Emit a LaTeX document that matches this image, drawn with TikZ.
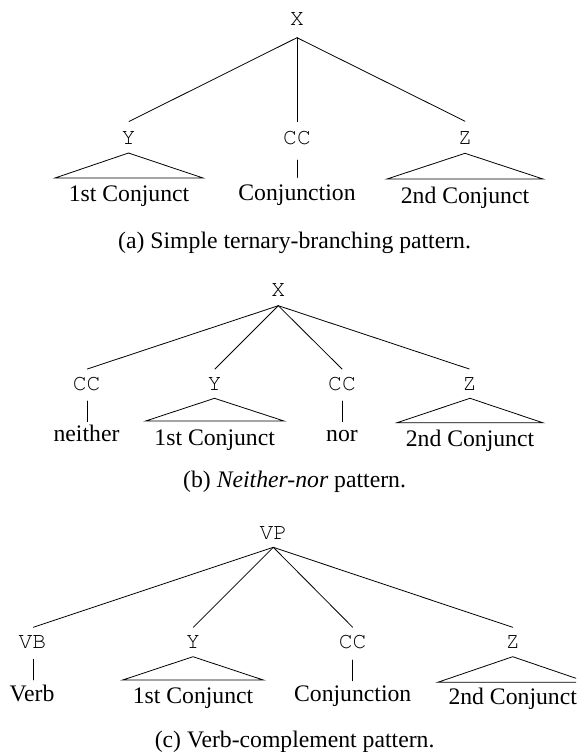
\documentclass[tikz,border=0pt]{standalone}
\usepackage[T1,TU]{fontenc}
\usepackage{fontspec}
\setmainfont{Liberation Serif}
\newcommand{\courierfont}{\fontencoding{T1}\fontfamily{pcr}\fontseries{m}\fontshape{n}\selectfont}
\begin{document}
\begin{tikzpicture}[x=1pt,y=-1pt,
  lab/.style={font=\courierfont\fontsize{23}{26}\selectfont, anchor=base, inner sep=0pt},
  txt/.style={font=\fontsize{23.7}{28}\selectfont\rmfamily, anchor=base, inner sep=0pt},
  captext/.style={font=\fontsize{23.7}{28}\selectfont\rmfamily, anchor=base, inner sep=0pt},
  edge/.style={line width=0.8pt, line cap=round},
  roof/.style={line width=0.8pt, line join=miter}]
\useasboundingbox (0,0) rectangle (576,752);
\clip (0,0) rectangle (576,752);

% ---------------- panel (a) ----------------
\node[lab] (aX) at (297,26) {X};
\coordinate (aXb) at (297,37.7);
\node[lab] (aY) at (128.5,144) {Y};
\node[lab] (aCC) at (297,144) {CC};
\node[lab] (aZ) at (465,144) {Z};
\coordinate (aYt) at (129,121.5);
\coordinate (aCCt) at (297,121.7);
\coordinate (aZt) at (465,121.2);
\draw[edge] (aXb) -- (aYt);
\draw[edge] (aXb) -- (aCCt);
\draw[edge] (aXb) -- (aZt);
\coordinate (aYa) at (128.5,153);
\coordinate (aYl) at (55,178);
\coordinate (aYr) at (203,178);
\draw[roof] (aYa) -- (aYr) -- (aYl) -- cycle;
\coordinate (aCCb) at (297,160);
\coordinate (aCCw) at (297,177.5);
\draw[edge] (aCCb) -- (aCCw);
\coordinate (aZa) at (465,153.3);
\coordinate (aZl) at (387,179);
\coordinate (aZr) at (543,179);
\draw[roof] (aZa) -- (aZr) -- (aZl) -- cycle;
\node[txt] (a1) at (129,201.7) {1st Conjunct};
\node[txt] (a2) at (297,200) {Conjunction};
\node[txt] (a3) at (465,203.3) {2nd Conjunct};
\node[captext] (acap) at (294.6,248) {(a) Simple ternary-branching pattern.};

% ---------------- panel (b) ----------------
\node[lab] (bX) at (278.3,296) {X};
\coordinate (bXb) at (278.3,305.7);
\node[lab] (bCC1) at (86.7,390.7) {CC};
\node[lab] (bY) at (214.5,390.7) {Y};
\node[lab] (bCC2) at (342,390.7) {CC};
\node[lab] (bZ) at (469.5,390.7) {Z};
\coordinate (bCC1t) at (87.3,369);
\coordinate (bYt) at (215,369);
\coordinate (bCC2t) at (342,369);
\coordinate (bZt) at (469.3,369);
\draw[edge] (bXb) -- (bCC1t);
\draw[edge] (bXb) -- (bYt);
\draw[edge] (bXb) -- (bCC2t);
\draw[edge] (bXb) -- (bZt);
\coordinate (bCC1b) at (87,401);
\coordinate (bCC1w) at (87,421.7);
\draw[edge] (bCC1b) -- (bCC1w);
\coordinate (bCC2b) at (342,401);
\coordinate (bCC2w) at (342,421.7);
\draw[edge] (bCC2b) -- (bCC2w);
\coordinate (bYa) at (214.5,398.3);
\coordinate (bYl) at (145.7,421);
\coordinate (bYr) at (284,421);
\draw[roof] (bYa) -- (bYr) -- (bYl) -- cycle;
\coordinate (bZa) at (470,398.3);
\coordinate (bZl) at (397,422.7);
\coordinate (bZr) at (542.7,422.7);
\draw[roof] (bZa) -- (bZr) -- (bZl) -- cycle;
\node[txt] (b1) at (86.5,441.7) {neither};
\node[txt] (b2) at (214.7,445) {1st Conjunct};
\node[txt] (b3) at (342,441.7) {nor};
\node[txt] (b4) at (470,446) {2nd Conjunct};
\node[captext] (bcap) at (294.6,487) {(b) \textit{Neither-nor} pattern.};

% ---------------- panel (c) ----------------
\node[lab] (cVP) at (273.3,539) {VP};
\coordinate (cVPb) at (273.3,547.3);
\node[lab] (cVB) at (32.5,648.3) {VB};
\node[lab] (cY) at (193,648.3) {Y};
\node[lab] (cCC) at (352.7,648.3) {CC};
\node[lab] (cZ) at (512.7,648.3) {Z};
\coordinate (cVBt) at (33.3,627.3);
\coordinate (cYt) at (193.3,627.3);
\coordinate (cCCt) at (352.7,627.3);
\coordinate (cZt) at (512.7,627.3);
\draw[edge] (cVPb) -- (cVBt);
\draw[edge] (cVPb) -- (cYt);
\draw[edge] (cVPb) -- (cCCt);
\draw[edge] (cVPb) -- (cZt);
\coordinate (cVBb) at (33,659.3);
\coordinate (cVBw) at (33,680);
\draw[edge] (cVBb) -- (cVBw);
\coordinate (cCCb) at (352.7,660);
\coordinate (cCCw) at (352.7,680.7);
\draw[edge] (cCCb) -- (cCCw);
\coordinate (cYa) at (193,656.7);
\coordinate (cYl) at (122.7,680);
\coordinate (cYr) at (263.3,680);
\draw[roof] (cYa) -- (cYr) -- (cYl) -- cycle;
\coordinate (cZa) at (512.7,656.7);
\coordinate (cZl) at (437.7,682.3);
\coordinate (cZr) at (587.7,682.3);
\draw[roof] (cZa) -- (cZr) -- (cZl) -- cycle;
\node[txt] (c1) at (32,701.7) {Verb};
\node[txt] (c2) at (193,703.3) {1st Conjunct};
\node[txt] (c3) at (352.7,701.7) {Conjunction};
\node[txt] (c4) at (512.7,704.3) {2nd Conjunct};
\node[captext] (ccap) at (294.6,747) {(c) Verb-complement pattern.};
\end{tikzpicture}
\end{document}
